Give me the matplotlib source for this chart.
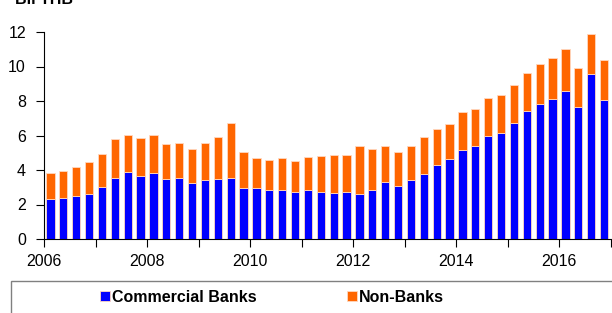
import matplotlib.pyplot as plt
from matplotlib.patches import Rectangle

plt.rcParams['font.family'] = ['Liberation Sans', 'DejaVu Sans']

# Quarterly, 2006Q1 - 2016Q4 (Bil THB)
commercial_banks = [2.32, 2.38, 2.49, 2.61, 3.01, 3.56, 3.90, 3.67, 3.81, 3.48, 3.54,
                    3.25, 3.42, 3.48, 3.56, 2.98, 2.96, 2.84, 2.86, 2.71, 2.84, 2.72,
                    2.69, 2.75, 2.63, 2.86, 3.30, 3.09, 3.44, 3.79, 4.29, 4.62, 5.18,
                    5.41, 5.99, 6.13, 6.74, 7.44, 7.85, 8.10, 8.60, 7.63, 9.57, 8.08]
totals = [3.83, 3.92, 4.17, 4.44, 4.93, 5.80, 6.01, 5.84, 6.03, 5.49, 5.55,
          5.20, 5.55, 5.89, 6.70, 5.04, 4.70, 4.58, 4.68, 4.50, 4.73, 4.81,
          4.87, 4.89, 5.37, 5.20, 5.39, 5.06, 5.39, 5.91, 6.38, 6.65, 7.34,
          7.52, 8.17, 8.35, 8.95, 9.62, 10.16, 10.49, 11.00, 9.91, 11.90, 10.40]
non_banks = [t - c for t, c in zip(totals, commercial_banks)]
positions = [2006 + (i + 0.5) / 4 for i in range(len(totals))]

fig = plt.figure(figsize=(6.12, 3.13), dpi=100)
ax = fig.add_axes([44 / 612, 1 - 239 / 313, 566.5 / 612, 207 / 313])

ax.bar(positions, commercial_banks, width=0.16, color="#0000FF",
       edgecolor="#FFD8C0", linewidth=0.6, label="Commercial Banks")
ax.bar(positions, non_banks, width=0.16, bottom=commercial_banks, color="#FF6600",
       edgecolor="#FFD8C0", linewidth=0.6, label="Non-Banks")

ax.set_xlim(2006, 2017)
ax.set_ylim(0, 12)
ax.set_yticks(range(0, 13, 2))
ax.set_xticks(range(2006, 2017, 2))
ax.set_xticks(range(2006, 2018), minor=True)
ax.tick_params(axis="both", which="both", direction="out", length=6, width=0.8,
               labelsize=11.5, colors="#000000")
ax.tick_params(axis="x", pad=5)
ax.tick_params(axis="y", pad=7)
for side in ["top", "right"]:
    ax.spines[side].set_visible(False)
for side in ["left", "bottom"]:
    ax.spines[side].set_color("#000000")
    ax.spines[side].set_linewidth(0.8)

fig.text(15 / 612, 1 - 4 / 313, "Bil THB", fontsize=11.5, fontweight="bold",
         va="baseline", ha="left")

# Caja de la leyenda
fig.patches.append(Rectangle((10.5 / 612, -0.05), 0.99, (313 - 281) / 313 + 0.05,
                             transform=fig.transFigure, fill=False,
                             edgecolor="#808080", linewidth=1))
leg = fig.legend(loc="center", bbox_to_anchor=(272 / 612, 1 - 297 / 313), ncol=2,
                 frameon=False, handlelength=0.63, handleheight=0.63,
                 handletextpad=0.13, columnspacing=5.6,
                 prop={"weight": "bold", "size": 11.5})

fig.savefig("out.png", dpi=100)
